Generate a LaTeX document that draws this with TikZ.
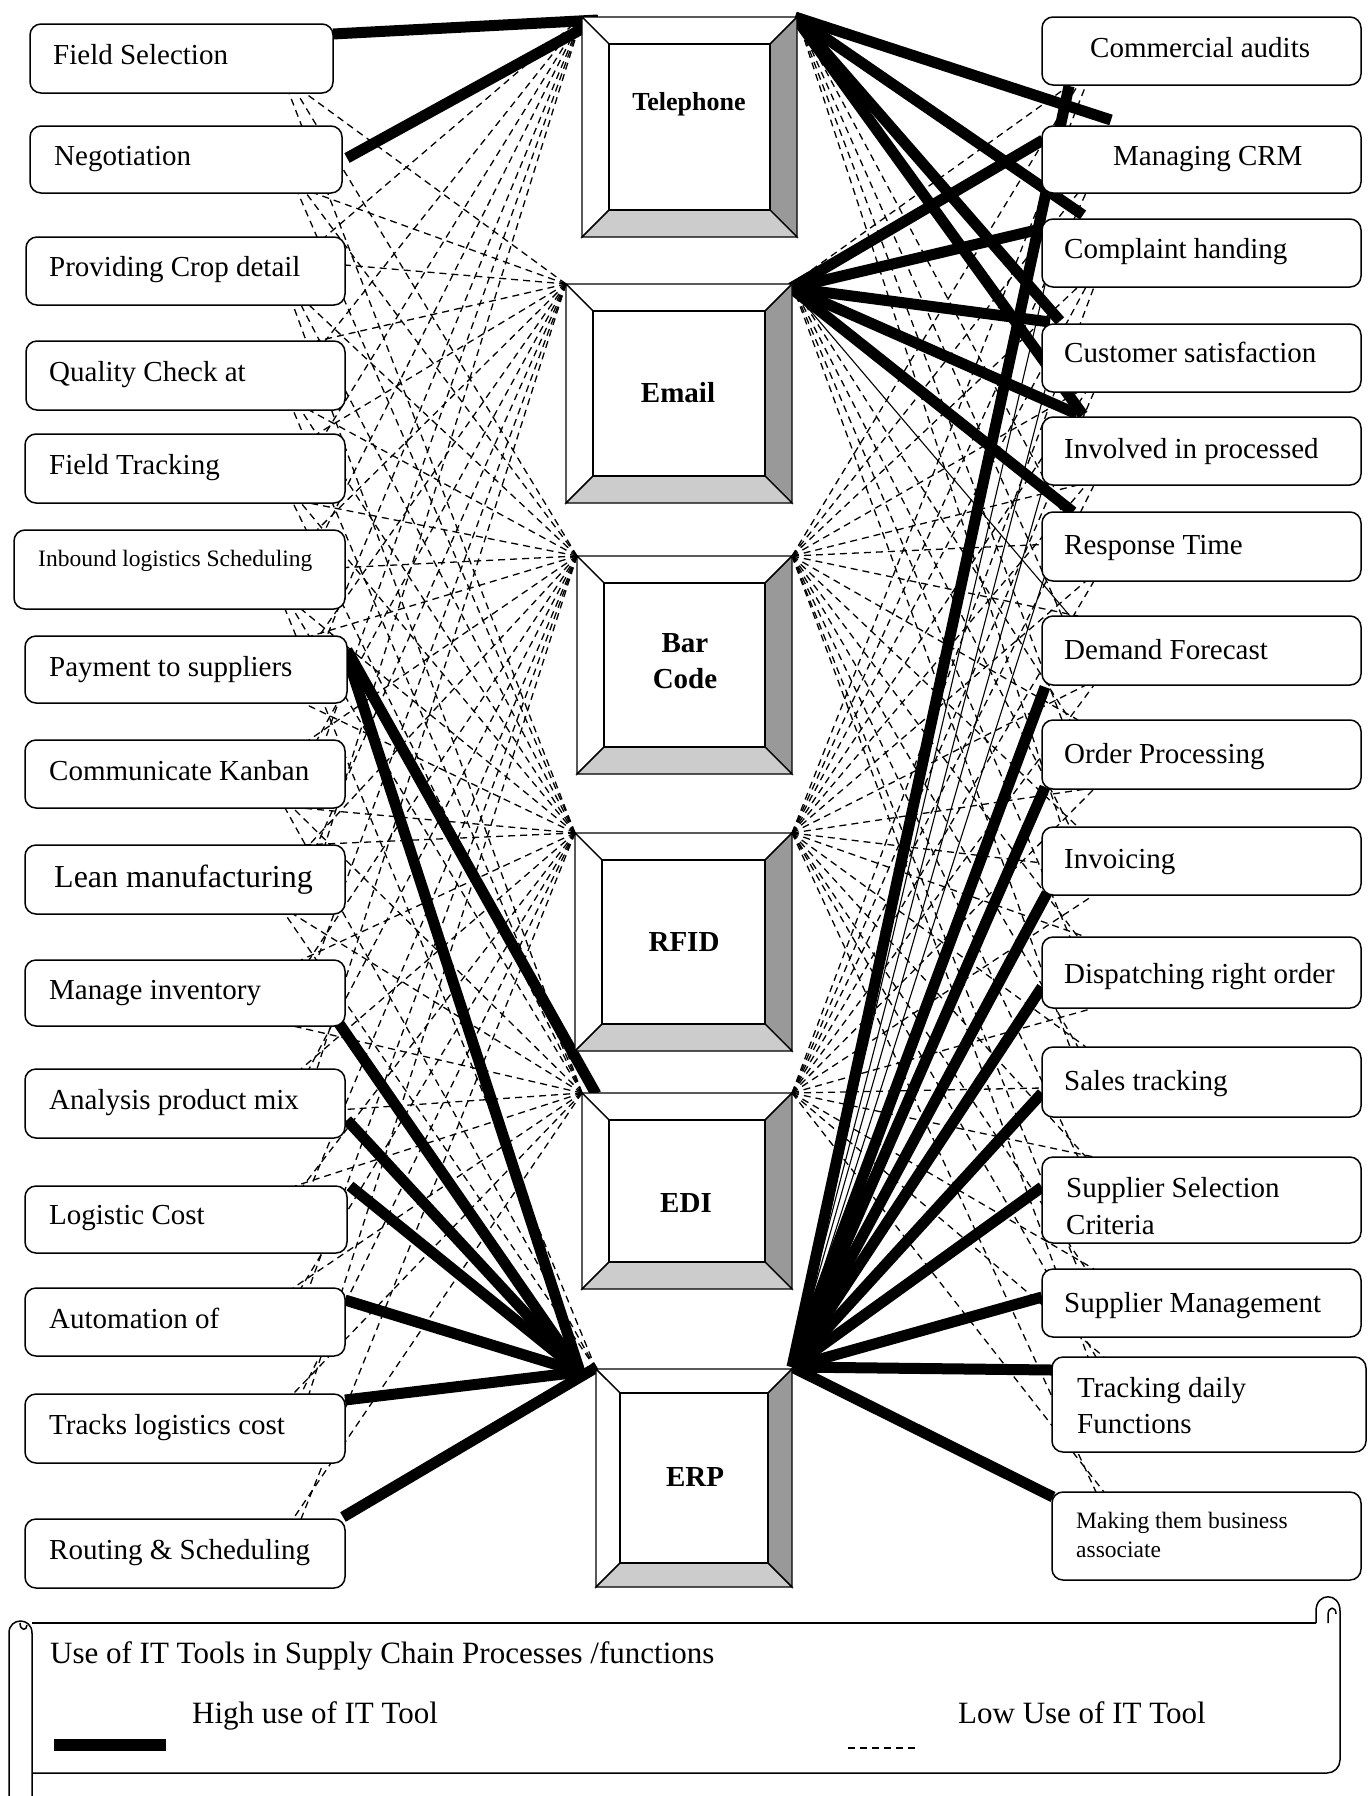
\documentclass[tikz,border=0pt]{standalone}
\usepackage{fontspec}
\setmainfont{Liberation Serif}
\usetikzlibrary{backgrounds}
\definecolor{shadeR}{HTML}{999999}
\definecolor{shadeB}{HTML}{CCCCCC}
\tikzset{
  pbox/.style={draw, line width=1.5pt, rounded corners=11pt, fill=white, inner sep=0pt, outer sep=0pt},
  ptext/.style={anchor=base west, inner sep=0pt, font=\fontsize{29}{34}\selectfont},
  stext/.style={anchor=base west, inner sep=0pt, font=\fontsize{23.5}{28}\selectfont},
  tname/.style={inner sep=0pt, align=center, font=\fontsize{29}{36}\selectfont\bfseries},
  bevel/.style={draw, line width=1.4pt, line join=miter},
  hiuse/.style={line width=11pt},
  lowuse/.style={line width=1.3pt, dash pattern=on 7pt off 5pt},
  thinuse/.style={line width=1.1pt},
  scroll/.style={line width=1.5pt},
}
% process box: name, x1, y1, x2, y2
\newcommand\procbox[5]{\node[pbox, minimum width={(#4-#2)*1pt}, minimum height={(#5-#3)*1pt}] (#1) at ({(#2+#4)/2},{(#3+#5)/2}) {};}
% bevelled tool box: name, x1, y1, x2, y2, bevel width
\newcommand\toolbox[6]{%
  \path[bevel, fill=white] (#2,#3) -- (#4,#3) -- ({#4-#6},{#3+#6}) -- ({#2+#6},{#3+#6}) -- cycle;
  \path[bevel, fill=white] (#2,#3) -- ({#2+#6},{#3+#6}) -- ({#2+#6},{#5-#6}) -- (#2,#5) -- cycle;
  \path[bevel, fill=shadeR] (#4,#3) -- (#4,#5) -- ({#4-#6},{#5-#6}) -- ({#4-#6},{#3+#6}) -- cycle;
  \path[bevel, fill=shadeB] (#2,#5) -- (#4,#5) -- ({#4-#6},{#5-#6}) -- ({#2+#6},{#5-#6}) -- cycle;
  \path[bevel, fill=white] ({#2+#6},{#3+#6}) rectangle ({#4-#6},{#5-#6});
  \node[inner sep=0pt, outer sep=0pt, minimum width={(#4-#2)*1pt}, minimum height={(#5-#3)*1pt}] (#1) at ({(#2+#4)/2},{(#3+#5)/2}) {};
}
% pairs that carry a solid link (or none) instead of a dashed one
\newcommand\nodash[1]{\expandafter\def\csname nd#1\endcsname{}}
\nodash{L1-1}\nodash{L2-1}\nodash{L7-5}\nodash{L7-6}\nodash{L10-6}\nodash{L11-6}
\nodash{L12-6}\nodash{L13-6}\nodash{L14-6}\nodash{L15-6}
\nodash{R1-1}\nodash{R2-1}\nodash{R3-1}\nodash{R4-1}\nodash{R5-1}
\nodash{R2-2}\nodash{R3-2}\nodash{R4-2}\nodash{R5-2}\nodash{R6-2}\nodash{R7-2}
\nodash{R1-6}\nodash{R2-6}\nodash{R3-6}\nodash{R4-6}\nodash{R5-6}\nodash{R6-6}\nodash{R7-6}
\nodash{R8-6}\nodash{R9-6}\nodash{R10-6}\nodash{R11-6}\nodash{R12-6}\nodash{R13-6}\nodash{R14-6}\nodash{R15-6}
\begin{document}
\begin{tikzpicture}[x=1pt,y=-1pt]
\useasboundingbox (0,0) rectangle (1369,1796);

% ---------- IT tools ----------
\toolbox{T1}{582}{17}{797}{237}{27}
\toolbox{T2}{566}{284}{792}{503}{27}
\toolbox{T3}{577}{556}{792}{774}{27}
\toolbox{T4}{575}{833}{792}{1051}{27}
\toolbox{T5}{582}{1093}{792}{1289}{27}
\toolbox{T6}{596}{1369}{792}{1587}{24}
\node[tname, font=\fontsize{26}{30}\selectfont\bfseries] (T1t) at (689,104) {Telephone};
\node[tname] (T2t) at (678,393) {Email};
\node[tname] (T3t) at (685,661) {Bar\\Code};
\node[tname] (T4t) at (684,942) {RFID};
\node[tname] (T5t) at (686,1203) {EDI};
\node[tname] (T6t) at (695,1477) {ERP};

% ---------- processes, left column ----------
\procbox{L1}{30}{24}{333}{93}
\procbox{L2}{30}{126}{342}{193}
\procbox{L3}{26}{237}{345}{305}
\procbox{L4}{26}{341}{345}{410}
\procbox{L5}{25}{434}{345}{503}
\procbox{L6}{14}{530}{345}{609}
\procbox{L7}{25}{636}{347}{703}
\procbox{L8}{25}{740}{345}{808}
\procbox{L9}{25}{845}{345}{914}
\procbox{L10}{25}{960}{345}{1026}
\procbox{L11}{25}{1069}{345}{1138}
\procbox{L12}{25}{1186}{347}{1253}
\procbox{L13}{25}{1288}{345}{1356}
\procbox{L14}{25}{1394}{345}{1463}
\procbox{L15}{25}{1519}{345}{1588}
\node[ptext] (L1t) at (53,64) {Field Selection};
\node[ptext] (L2t) at (54,165) {Negotiation};
\node[ptext] (L3t) at (49,276) {Providing Crop detail};
\node[ptext] (L4t) at (49,381) {Quality Check at};
\node[ptext] (L5t) at (49,474) {Field Tracking};
\node[stext] (L6t) at (38,566) {Inbound logistics Scheduling};
\node[ptext] (L7t) at (49,676) {Payment to suppliers};
\node[ptext] (L8t) at (49,780) {Communicate Kanban};
\node[ptext, font=\fontsize{32}{38}\selectfont] (L9t) at (54,887) {Lean manufacturing};
\node[ptext] (L10t) at (49,999) {Manage inventory};
\node[ptext] (L11t) at (49,1109) {Analysis product mix};
\node[ptext] (L12t) at (49,1224) {Logistic Cost};
\node[ptext] (L13t) at (49,1328) {Automation of};
\node[ptext] (L14t) at (49,1434) {Tracks logistics cost};
\node[ptext] (L15t) at (49,1559) {Routing \& Scheduling};

% ---------- processes, right column ----------
\procbox{R1}{1042}{17}{1361}{85}
\procbox{R2}{1042}{126}{1361}{193}
\procbox{R3}{1042}{219}{1361}{287}
\procbox{R4}{1042}{324}{1361}{392}
\procbox{R5}{1042}{417}{1361}{485}
\procbox{R6}{1042}{512}{1361}{581}
\procbox{R7}{1042}{616}{1361}{685}
\procbox{R8}{1042}{720}{1361}{789}
\procbox{R9}{1042}{827}{1361}{895}
\procbox{R10}{1042}{937}{1361}{1008}
\procbox{R11}{1042}{1047}{1361}{1117}
\procbox{R12}{1042}{1157}{1361}{1243}
\procbox{R13}{1042}{1269}{1361}{1337}
\procbox{R14}{1052}{1357}{1366}{1452}
\procbox{R15}{1052}{1492}{1361}{1580}
\node[ptext] (R1t) at (1090,57) {Commercial audits};
\node[ptext] (R2t) at (1113,165) {Managing CRM};
\node[ptext] (R3t) at (1064,258) {Complaint handing};
\node[ptext] (R4t) at (1064,362) {Customer satisfaction};
\node[ptext] (R5t) at (1064,458) {Involved in processed};
\node[ptext] (R6t) at (1064,554) {Response Time};
\node[ptext] (R7t) at (1064,659) {Demand Forecast};
\node[ptext] (R8t) at (1064,763) {Order Processing};
\node[ptext] (R9t) at (1064,868) {Invoicing};
\node[ptext] (R10t) at (1064,983) {Dispatching right order};
\node[ptext] (R11t) at (1064,1090) {Sales tracking};
\node[ptext] (R12t) at (1066,1197) {Supplier Selection};
\node[ptext] (R12u) at (1066,1234) {Criteria};
\node[ptext] (R13t) at (1064,1312) {Supplier Management};
\node[ptext] (R14t) at (1077,1397) {Tracking daily};
\node[ptext] (R14u) at (1077,1433) {Functions};
\node[stext] (R15t) at (1076,1528) {Making them business};
\node[stext] (R15u) at (1076,1557) {associate};

% ---------- links ----------
\begin{pgfonlayer}{background}
  % low use: left processes
  \foreach \i/\xr/\tp/\bt in {1/333/24/93,2/342/126/193,3/345/237/305,4/345/341/410,
      5/345/434/503,6/345/530/609,7/347/636/703,8/345/740/808,9/345/845/914,
      10/345/960/1026,11/345/1069/1138,12/347/1186/1253,13/345/1288/1356,
      14/345/1394/1463,15/345/1519/1588}{
    \foreach \j/\hy in {1/17,2/284,3/556,4/833,5/1093,6/1369}{
      \pgfmathtruncatemacro\far{abs((\tp+\bt)/2-\hy)>900 ? 1 : 0}%
      \ifcsname ndL\i-\j\endcsname\else\ifnum\far=0
        \ifdim\hy pt<\tp pt
          \pgfmathsetmacro\ax{\xr-12-8*\j}\edef\ay{\tp}%
        \else\ifdim\hy pt>\bt pt
          \pgfmathsetmacro\ax{\xr-12-8*\j}\edef\ay{\bt}%
        \else
          \edef\ax{\xr}\pgfmathsetmacro\ay{(\tp+\bt)/2+4*\j-14}%
        \fi\fi
        \coordinate (L\i-\j) at (\ax,\ay);
        \draw[lowuse] (T\j.north west) -- (L\i-\j);
      \fi\fi
    }
  }
  % low use: right processes
  \foreach \i/\xl/\tp/\bt in {1/1042/17/85,2/1042/126/193,3/1042/219/287,4/1042/324/392,
      5/1042/417/485,6/1042/512/581,7/1042/616/685,8/1042/720/789,9/1042/827/895,
      10/1042/937/1008,11/1042/1047/1117,12/1042/1157/1243,13/1042/1269/1337,
      14/1052/1357/1452,15/1052/1492/1580}{
    \foreach \j/\hy in {1/17,2/284,3/556,4/833,5/1093,6/1369}{
      \pgfmathtruncatemacro\far{abs((\tp+\bt)/2-\hy)>900 ? 1 : 0}%
      \ifcsname ndR\i-\j\endcsname\else\ifnum\far=0
        \ifdim\hy pt<\tp pt
          \pgfmathsetmacro\ax{\xl+12+8*\j}\edef\ay{\tp}%
        \else\ifdim\hy pt>\bt pt
          \pgfmathsetmacro\ax{\xl+12+8*\j}\edef\ay{\bt}%
        \else
          \edef\ax{\xl}\pgfmathsetmacro\ay{(\tp+\bt)/2+4*\j-14}%
        \fi\fi
        \coordinate (R\i-\j) at (\ax,\ay);
        \draw[lowuse] (T\j.north east) -- (R\i-\j);
      \fi\fi
    }
  }

  % hubs of the solid links
  \coordinate (telIn) at (598,20);
  \coordinate (ediIn) at (596,1094);
  \coordinate (erpInA) at (580,1372);
  \coordinate (erpInB) at (597,1367);
  \coordinate (telOut) at (795,17);
  \coordinate (emlOut) at (791,288);
  \coordinate (erpOut) at (792,1367);

  % thin solid links
  \foreach \k/\px/\py in {2/1045/190,3/1045/285,4/1045/390,5/1045/480,6/1045/575}{
    \coordinate (R\k-e) at (\px,\py);
    \draw[thinuse] (erpOut) -- (R\k-e);
  }
  \coordinate (R7-m) at (1070,616);
  \draw[thinuse] (emlOut) -- (R7-m);

  % high use: left processes
  \coordinate (L1-h) at (333,34);
  \coordinate (L2-h) at (347,158);
  \coordinate (L7-h) at (347,650);
  \coordinate (L7-g) at (347,656);
  \coordinate (L10-h) at (338,1022);
  \coordinate (L11-h) at (347,1120);
  \coordinate (L12-h) at (350,1186);
  \coordinate (L13-h) at (345,1300);
  \coordinate (L14-h) at (345,1400);
  \coordinate (L15-h) at (343,1517);
  \draw[hiuse] (L1-h) -- (telIn);
  \draw[hiuse] (L2-h) -- (telIn);
  \draw[hiuse] (L7-h) -- (ediIn);
  \draw[hiuse] (L7-g) -- (erpInA);
  \draw[hiuse] (L10-h) -- (erpInA);
  \draw[hiuse] (L11-h) -- (erpInA);
  \draw[hiuse] (L12-h) -- (erpInA);
  \draw[hiuse] (L13-h) -- (erpInA);
  \draw[hiuse] (L14-h) -- (erpInA);
  \draw[hiuse] (L15-h) -- (erpInB);

  % high use: right processes
  \foreach \k/\px/\py in {2/1111/120,3/1083/215,4/1060/321,5/1083/415}{
    \coordinate (R\k-t) at (\px,\py);
    \draw[hiuse] (telOut) -- (R\k-t);
  }
  \foreach \k/\px/\py in {2/1043/140,3/1045/228,4/1050/322,5/1077/414,6/1073/512}{
    \coordinate (R\k-m) at (\px,\py);
    \draw[hiuse] (emlOut) -- (R\k-m);
  }
  \foreach \k/\px/\py in {1/1069/86,7/1045/687,8/1045/787,9/1047/893,10/1042/987,
      11/1042/1093,12/1042/1187,13/1042/1297,14/1052/1370,15/1053/1497}{
    \coordinate (R\k-p) at (\px,\py);
    \draw[hiuse] (erpOut) -- (R\k-p);
  }
\end{pgfonlayer}

% ---------- legend scroll ----------
\draw[scroll] (32,1623) -- (1316,1623);
\draw[scroll] (1316,1623) -- (1316,1611) .. controls (1316,1592) and (1340,1592) .. (1340,1611);
\draw[scroll] (1328,1623) -- (1328,1615) .. controls (1328,1606) and (1336,1606) .. (1336,1614);
\draw[scroll, rounded corners=13pt] (1340,1611) -- (1340,1773) -- (32,1773);
\draw[scroll] (9,1796) -- (9,1633) .. controls (9,1617) and (32,1617) .. (32,1633) -- (32,1796);
\draw[scroll] (20,1623) .. controls (20,1631) and (27,1631) .. (27,1625);
\node[ptext, font=\fontsize{31}{36}\selectfont] (lgT) at (50,1663) {Use of IT Tools in Supply Chain Processes /functions};
\node[ptext, font=\fontsize{31}{36}\selectfont] (lgH) at (192,1723) {High use of IT Tool};
\node[ptext, font=\fontsize{31}{36}\selectfont] (lgL) at (958,1723) {Low Use of IT Tool};
\coordinate (hiA) at (54,1745);
\coordinate (hiB) at (166,1745);
\draw[line width=12pt] (hiA) -- (hiB);
\coordinate (loA) at (848,1748);
\coordinate (loB) at (916,1748);
\draw[lowuse] (loA) -- (loB);
\end{tikzpicture}
\end{document}
